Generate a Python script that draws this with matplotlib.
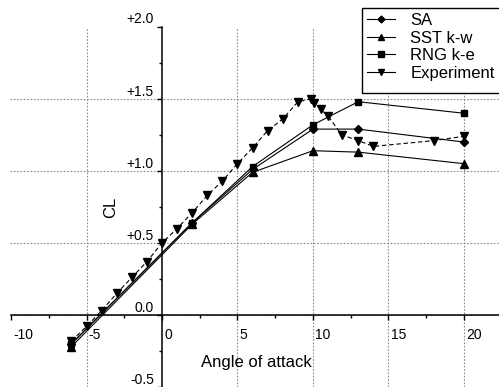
import matplotlib
matplotlib.use("Agg")
import matplotlib.pyplot as plt
from matplotlib.lines import Line2D
from matplotlib.patches import Rectangle
from matplotlib.ticker import MultipleLocator

plt.rcParams['font.family'] = ['Liberation Sans', 'DejaVu Sans']

# simulation results
sim_aoa = [-6, 2, 6, 10, 13, 20]
cl_sa = [-0.20, 0.64, 1.01, 1.29, 1.29, 1.20]
cl_sst = [-0.22, 0.63, 0.99, 1.14, 1.13, 1.05]
cl_rng = [-0.20, 0.64, 1.03, 1.32, 1.48, 1.40]

# experiment
exp_aoa = [-6, -5, -4, -3, -2, -1, 0, 1, 2, 3, 4, 5, 6, 7, 8, 9,
           9.9, 10.1, 10.5, 11, 11.9, 13, 14, 18, 20]
exp_cl = [-0.18, -0.08, 0.03, 0.15, 0.26, 0.37, 0.50, 0.60, 0.71, 0.83,
          0.93, 1.05, 1.16, 1.28, 1.36, 1.48, 1.50, 1.47, 1.43, 1.38,
          1.25, 1.21, 1.17, 1.21, 1.24]

labels = ["SA", "SST k-w", "RNG k-e", "Experiment"]

xticks = [-10, -5, 0, 5, 10, 15, 20]
yticks = [-0.5, 0.0, 0.5, 1.0, 1.5, 2.0]
ytick_labels = ["-0.5", "0.0", "+0.5", "+1.0", "+1.5", "+2.0"]

W, H = 499, 387
fig = plt.figure(figsize=(W / 100, H / 100), dpi=100)
ax = fig.add_axes([0, 0, 1, 1])
ax.set_xlim(-10.73, 22.32)
ax.set_ylim(-0.474, 2.186)

# dotted grid
grid_kw = dict(color='#8c8c8c', lw=0.8, linestyle=(0, (1.5, 1.5)), zorder=0)
ax.vlines([x for x in xticks if x not in (-10, 0)], -0.5, 2.0, **grid_kw)
ax.hlines([0.0, 0.5, 1.0, 1.5], -10.1, 22.32, **grid_kw)

# axes through origin
for s in ['top', 'right']:
    ax.spines[s].set_visible(False)
ax.spines['left'].set_position(('data', 0))
ax.spines['bottom'].set_position(('data', 0))
ax.spines['left'].set_bounds(-0.5, 2.0)
ax.spines['bottom'].set_bounds(-10, 22.32)
ax.spines['left'].set_linewidth(1.1)
ax.spines['bottom'].set_linewidth(1.1)

ax.set_xticks(xticks)
ax.set_yticks(yticks)
ax.xaxis.set_minor_locator(MultipleLocator(2.5))
ax.yaxis.set_minor_locator(MultipleLocator(0.25))
ax.tick_params(which='major', direction='out', length=3.5, width=1,
               labelbottom=False, labelleft=False)
ax.tick_params(which='minor', direction='out', length=2.2, width=1)

for x in xticks:
    ax.annotate(str(x), (x, 0), xytext=(1.5, -17), textcoords='offset points',
                ha='left', va='baseline', fontsize=10, annotation_clip=False)
for y, lab in zip(yticks, ytick_labels):
    ax.annotate(lab, (0, y), xytext=(-5.8, 2.4), textcoords='offset points',
                ha='right', va='baseline', fontsize=10, annotation_clip=False)

# series
ax.plot(sim_aoa, cl_sa, color='black', lw=0.8, marker='D', ms=4, zorder=3)
ax.plot(sim_aoa, cl_sst, color='black', lw=0.8, marker='^', ms=6, zorder=3)
ax.plot(sim_aoa, cl_rng, color='black', lw=0.8, marker='s', ms=4.5, zorder=3)
ax.plot(exp_aoa, exp_cl, color='black', lw=0.8, linestyle=(0, (4, 2.5)),
        marker='v', ms=6, zorder=4)

handles = [
    Line2D([], [], color='black', lw=0.8, marker='D', ms=3.5),
    Line2D([], [], color='black', lw=0.8, marker='^', ms=5),
    Line2D([], [], color='black', lw=0.8, marker='s', ms=4),
    Line2D([], [], color='black', lw=0.8, marker='v', ms=5),
]
leg = ax.legend(handles, labels, loc='upper left',
                bbox_to_anchor=(362 / W, 1 - 8 / H), fontsize=12,
                frameon=False, handlelength=1.7,
                handletextpad=0.9, labelspacing=0.16, borderpad=0.3,
                borderaxespad=0)
leg.set_zorder(6)

# legend box of the original runs off the right edge of the picture
ax.add_patch(Rectangle((362 / W, 1 - 93 / H), 200 / W, 85 / H,
                       transform=fig.transFigure, facecolor='white',
                       edgecolor='black', lw=1.0, zorder=5, clip_on=False))

ax.text(-3.38, 0.75, "CL", rotation=90, ha='center', va='center', fontsize=12)
fig.text(256.7 / W, 1 - 362 / H, "Angle of attack", ha='center',
         va='center', fontsize=12)

fig.savefig("out.png", dpi=100)
